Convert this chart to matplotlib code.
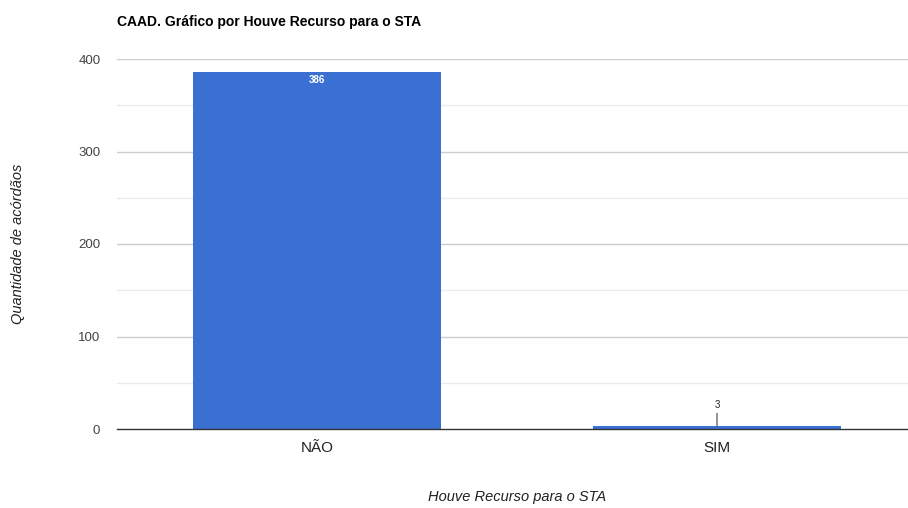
import matplotlib
matplotlib.use("Agg")
import matplotlib.pyplot as plt

categories = ["NÃO", "SIM"]
values = [386, 3]
yticks = [0, 100, 200, 300, 400]

plt.rcParams['font.family'] = ['Liberation Sans', 'DejaVu Sans']

W, H = 908, 508
fig = plt.figure(figsize=(W/100, H/100), dpi=100)
ax = fig.add_axes([117/W, 79/H, 800/W, 370/H])

x = list(range(len(categories)))
bars = ax.bar(x, values, width=0.62, color="#3b70d3", zorder=3)
ax.set_xlim(-0.5, len(categories) - 0.5)
ax.set_ylim(0, 400)

for v in [50, 150, 250, 350]:
    ax.axhline(v, color="#ebebeb", lw=1, zorder=1)
for v in yticks[1:]:
    ax.axhline(v, color="#cccccc", lw=1, zorder=1)
ax.axhline(0, color="#333333", lw=1, zorder=4, clip_on=False)

ax.set_yticks(yticks)
ax.set_yticklabels([str(t) for t in yticks], color="#444444", fontsize=9.5)
ax.set_xticks(x)
ax.set_xticklabels(categories, color="#222222", fontsize=11)
ax.tick_params(axis='both', length=0)
ax.tick_params(axis='y', pad=12)
ax.tick_params(axis='x', pad=9)
for s in ax.spines.values():
    s.set_visible(False)

# data labels
ax.text(x[0], values[0] - 3, str(values[0]), ha='center', va='top', color='white',
        fontsize=7, fontweight='bold', zorder=5)
ax.annotate(str(values[1]), xy=(x[1], values[1]), xytext=(x[1], values[1] + 17),
            ha='center', va='bottom', fontsize=7, color='#222222',
            arrowprops=dict(arrowstyle='-', color='#444444', lw=0.8, shrinkA=0, shrinkB=0),
            zorder=5)

fig.text(517/W, 1 - 497/H, "Houve Recurso para o STA", fontstyle='italic', color='#222222',
         fontsize=10.5, ha='center', va='center')
fig.text(18/W, 1 - 244/H, "Quantidade de acórdãos", fontstyle='italic', color='#222222',
         fontsize=10.5, ha='center', va='center', rotation=90)

fig.text(117/W, 1 - 22/H, "CAAD. Gráfico por Houve Recurso para o STA", fontsize=10,
         fontweight='bold', color='#000000', ha='left', va='center')

fig.savefig("out.png", dpi=100)
